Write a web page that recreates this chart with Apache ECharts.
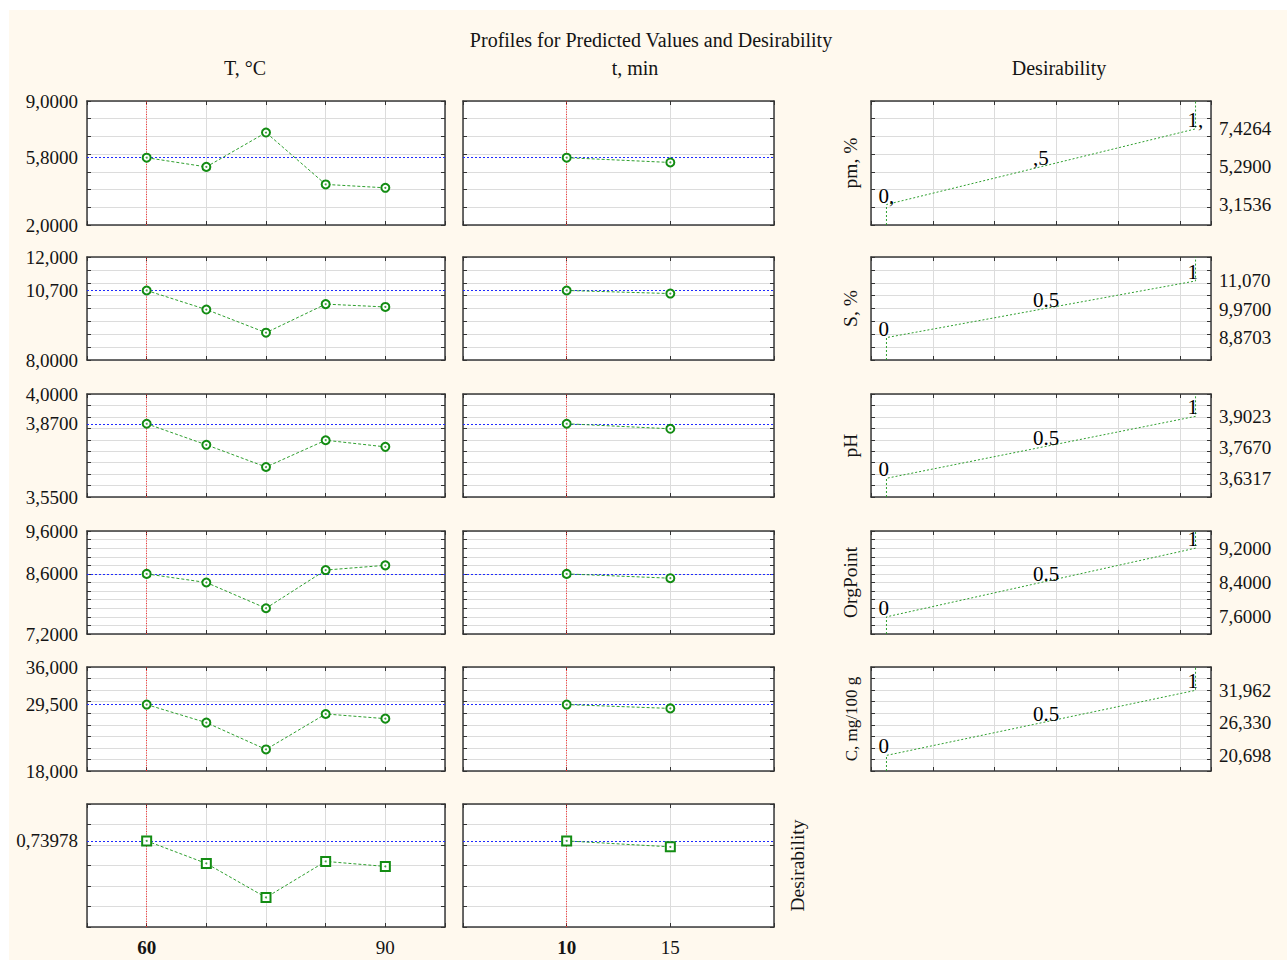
<!DOCTYPE html>
<html><head><meta charset="utf-8">
<script src="https://cdn.jsdelivr.net/npm/echarts@6/dist/echarts.min.js"></script>
<style>
html,body{margin:0;padding:0;background:#ffffff;}
#bg{position:absolute;left:9px;top:10px;width:1278px;height:950px;background:#fff9ee;}
#chart{position:absolute;left:0;top:0;width:1287px;height:960px;}
</style></head><body>
<div id="bg"></div><div id="chart"></div>
<script>
// ---------------- DATA ----------------
const tempLevels = [60, 67.5, 75, 82.5, 90];
const timeLevels = [10, 15];
const responseNames = ['pm, %', 'S, %', 'pH', 'OrgPoint', 'C, mg/100 g'];

const pmByTemp  = [5.80, 5.28, 7.22, 4.29, 4.10];
const sByTemp   = [10.70, 9.96, 9.06, 10.17, 10.06];
const phByTemp  = [3.87, 3.778, 3.681, 3.798, 3.769];
const orgByTemp = [8.60, 8.40, 7.80, 8.69, 8.80];
const cByTemp   = [29.5, 26.37, 21.73, 27.87, 27.06];
const desByTemp = [0.73978, 0.52, 0.188, 0.54, 0.491];

const pmByTime  = [5.80, 5.53];
const sByTime   = [10.70, 10.58];
const phByTime  = [3.87, 3.848];
const orgByTime = [8.60, 8.50];
const cByTime   = [29.5, 28.83];
const desByTime = [0.73978, 0.682];

const currentValues = [5.8, 10.7, 3.87, 8.6, 29.5, 0.73978];
const currentTemp = 60;
const currentTime = 10;

const yMins  = [2, 8, 3.55, 7.2, 18, -0.1];
const yMaxs  = [9, 12, 4.0, 9.6, 36, 1.1];
const ySteps = [1, 0.5, 0.05, 0.2, 2, 0.2];

const leftTickValues = [[9, 5.8, 2], [12, 10.7, 8], [4, 3.87, 3.55], [9.6, 8.6, 7.2], [36, 29.5, 18], [0.73978]];
const leftTickLabels = [['9,0000', '5,8000', '2,0000'], ['12,000', '10,700', '8,0000'], ['4,0000', '3,8700', '3,5500'],
                        ['9,6000', '8,6000', '7,2000'], ['36,000', '29,500', '18,000'], ['0,73978']];

const tempTickValues = [60, 90];
const tempTickLabels = ['60', '90'];
const timeTickValues = [10, 15];
const timeTickLabels = ['10', '15'];

// desirability functions: value giving d=0, d=0.5, d=1
const desLow  = [3.1536, 8.8703, 3.6317, 7.6, 20.698];
const desMid  = [5.29, 9.97, 3.767, 8.4, 26.33];
const desHigh = [7.4264, 11.07, 3.9023, 9.2, 31.962];
const desTickLabels = [['3,1536', '5,2900', '7,4264'], ['8,8703', '9,9700', '11,070'], ['3,6317', '3,7670', '3,9023'],
                       ['7,6000', '8,4000', '9,2000'], ['20,698', '26,330', '31,962']];
const desLevels = [0, 0.5, 1];
const desLevelTexts = [['0,', ',5', '1,'], ['0', '0.5', '1'], ['0', '0.5', '1'], ['0', '0.5', '1'], ['0', '0.5', '1']];

// ---------------- LAYOUT / STYLE ----------------
const FONT = 'Liberation Serif';
const TXT = '#141414';
const colLeft = [87, 463, 871];
const colWidth = [358, 311, 340];
const rowTop = [101, 257, 394, 531, 667, 804];
const rowHeight = [124, 103, 103, 103, 104, 123];
const GREEN = '#138c13';
const GREEN_LINE = '#2f9f2f';

const byTemp = [pmByTemp, sByTemp, phByTemp, orgByTemp, cByTemp, desByTemp];
const byTime = [pmByTime, sByTime, phByTime, orgByTime, cByTime, desByTime];

function pick(vals, labels) {
  return function (v) {
    let best = 0, d = Infinity;
    vals.forEach((x, i) => { const e = Math.abs(x - v); if (e < d) { d = e; best = i; } });
    return labels[best];
  };
}

const option = {
  animation: false,
  backgroundColor: 'transparent',
  textStyle: { fontFamily: FONT },
  grid: [], xAxis: [], yAxis: [], series: [], graphic: []
};

function addGrid(l, t, w, h) {
  option.grid.push({ left: l, top: t, width: w, height: h, show: true, backgroundColor: '#ffffff',
    borderWidth: 0, containLabel: false, outerBoundsMode: 'none' });
  return option.grid.length - 1;
}

function baseAxis(g, min, max, step) {
  return { type: 'value', gridIndex: g, min: min, max: max, interval: step,
    axisLine: { show: true, onZero: false, lineStyle: { color: '#3a3a3a', width: 1.5 } },
    axisTick: { show: true, inside: true, length: 4, lineStyle: { color: '#333333', width: 1 } },
    axisLabel: { show: false }, splitLine: { show: false } };
}

function frame(g, xr, yr) {
  const xb = Object.assign(baseAxis(g, xr[0], xr[1], xr[2]), { position: 'bottom',
    splitLine: { show: true, lineStyle: { color: '#dcdcdc', width: 1 } } });
  const xt = Object.assign(baseAxis(g, xr[0], xr[1], xr[2]), { position: 'top' });
  const yl = Object.assign(baseAxis(g, yr[0], yr[1], yr[2]), { position: 'left',
    splitLine: { show: true, lineStyle: { color: '#dcdcdc', width: 1 } } });
  const yrt = Object.assign(baseAxis(g, yr[0], yr[1], yr[2]), { position: 'right' });
  option.xAxis.push(xb); const xi = option.xAxis.length - 1; option.xAxis.push(xt);
  option.yAxis.push(yl); const yi = option.yAxis.length - 1; option.yAxis.push(yrt);
  return { xi: xi, yi: yi, yl: yl, yr: yrt };
}

function labelYAxis(g, min, max, pos, vals, labels, margin) {
  option.yAxis.push({ type: 'value', gridIndex: g, position: pos, min: min, max: max,
    axisLine: { show: false, onZero: false }, axisTick: { show: false }, splitLine: { show: false },
    axisLabel: { show: true, margin: margin, customValues: vals, formatter: pick(vals, labels),
      fontSize: 19, color: TXT, fontFamily: FONT } });
}

function labelXAxis(g, min, max, vals, labels, current) {
  option.xAxis.push({ type: 'value', gridIndex: g, position: 'bottom', min: min, max: max,
    axisLine: { show: false, onZero: false }, axisTick: { show: false }, splitLine: { show: false },
    axisLabel: { show: true, margin: 11, customValues: vals,
      formatter: function (v) { const s = pick(vals, labels)(v); return Math.abs(v - current) < 1e-9 ? '{b|' + s + '}' : '{n|' + s + '}'; },
      rich: { b: { fontWeight: 'bold', fontSize: 19, fontFamily: FONT, color: TXT },
              n: { fontSize: 19, fontFamily: FONT, color: TXT } } } });
}

// ---------- profile panels ----------
for (let r = 0; r < 6; r++) {
  for (let c = 0; c < 2; c++) {
    const g = addGrid(colLeft[c], rowTop[r], colWidth[c], rowHeight[r]);
    const xr = c === 0 ? [52.5, 97.5, 7.5] : [5, 20, 5];
    const fr = frame(g, xr, [yMins[r], yMaxs[r], ySteps[r]]);
    if (c === 0) labelYAxis(g, yMins[r], yMaxs[r], 'left', leftTickValues[r], leftTickLabels[r], 9);
    if (r === 5) {
      if (c === 0) labelXAxis(g, xr[0], xr[1], tempTickValues, tempTickLabels, currentTemp);
      else labelXAxis(g, xr[0], xr[1], timeTickValues, timeTickLabels, currentTime);
    }
    if (r === 5 && c === 1) {
      Object.assign(fr.yr, { name: 'Desirability', nameLocation: 'middle', nameRotate: 90, nameGap: 13,
        nameTextStyle: { fontSize: 19.5, color: TXT, fontFamily: FONT } });
    }
    const xs = c === 0 ? tempLevels : timeLevels;
    const ys = c === 0 ? byTemp[r] : byTime[r];
    const pts = xs.map((x, i) => [x, ys[i]]);
    option.series.push({
      type: 'line', xAxisIndex: fr.xi, yAxisIndex: fr.yi, data: pts,
      symbol: r === 5 ? 'emptyRect' : 'emptyCircle', symbolSize: r === 5 ? 9 : 8,
      itemStyle: { color: GREEN, borderWidth: 1.3 },
      lineStyle: { color: GREEN_LINE, width: 1, type: [3, 2] },
      z: 5,
      markLine: { silent: true, symbol: 'none', label: { show: false },
        data: [
          { xAxis: c === 0 ? currentTemp : currentTime, lineStyle: { color: '#ff3030', width: 1, type: [1, 1.5] } },
          { yAxis: currentValues[r], lineStyle: { color: '#1f2bff', width: 1.2, type: [2, 2] } }
        ] }
    });
    option.series.push({ type: 'scatter', xAxisIndex: fr.xi, yAxisIndex: fr.yi, data: pts,
      symbol: 'circle', symbolSize: 2, itemStyle: { color: GREEN }, z: 6, silent: true });
  }
}

// ---------- desirability function panels ----------
for (let r = 0; r < 5; r++) {
  const g = addGrid(colLeft[2], rowTop[r], colWidth[2], rowHeight[r]);
  const fr = frame(g, [-0.05, 1.05, 0.2], [yMins[r], yMaxs[r], ySteps[r]]);
  Object.assign(fr.yl, { name: responseNames[r], nameLocation: 'middle', nameRotate: 90, nameGap: 11,
    nameTextStyle: { fontSize: r === 4 ? 17 : 19.5, color: TXT, fontFamily: FONT } });
  labelYAxis(g, yMins[r], yMaxs[r], 'right', [desLow[r], desMid[r], desHigh[r]], desTickLabels[r], 8);
  option.series.push({
    type: 'line', xAxisIndex: fr.xi, yAxisIndex: fr.yi,
    data: [[desLevels[0], yMins[r]], [desLevels[0], desLow[r]], [desLevels[2], desHigh[r]], [desLevels[2], yMaxs[r]]],
    symbol: 'none', lineStyle: { color: GREEN_LINE, width: 1, type: [2, 2] }, z: 5
  });
  const vals = [desLow[r], desMid[r], desHigh[r]];
  option.series.push({
    type: 'scatter', xAxisIndex: fr.xi, yAxisIndex: fr.yi,
    data: desLevels.map((d, i) => [d, vals[i]]),
    symbol: 'circle', symbolSize: 1, itemStyle: { color: 'rgba(0,0,0,0)' }, z: 7, silent: true,
    label: { show: true, position: 'top', distance: 0, align: 'left', offset: [-8, 2],
      formatter: function (p) { return desLevelTexts[r][p.dataIndex]; },
      fontSize: 21, color: '#000000', textBorderWidth: 0, opacity: 1, fontFamily: FONT }
  });
}

// ---------- titles ----------
function txt(text, x, y) {
  option.graphic.push({ type: 'text', x: x, y: y, silent: true,
    style: { text: text, fontSize: 20, fontFamily: FONT, fill: TXT,
      align: 'center', verticalAlign: 'middle', textAlign: 'center', textVerticalAlign: 'middle' } });
}
txt('Profiles for Predicted Values and Desirability', 651, 39.5);
txt('T, °C', 245, 68);
txt('t, min', 635, 68);
txt('Desirability', 1059, 68);

const chart = echarts.init(document.getElementById('chart'), null, { renderer: 'svg' });
chart.setOption(option);
</script>
</body></html>
